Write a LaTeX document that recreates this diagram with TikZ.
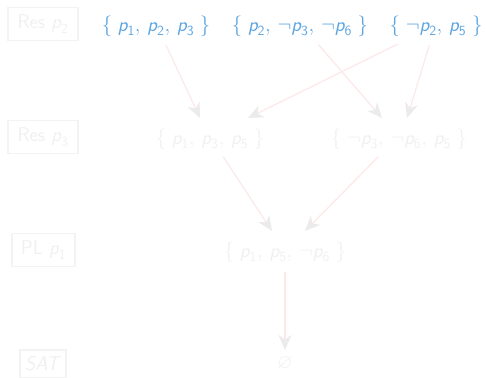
\documentclass[tikz,border=0pt]{standalone}
\usepackage{amsmath,amssymb}
\usetikzlibrary{arrows.meta}
\definecolor{blu}{HTML}{5DA5E0}
\definecolor{fade}{HTML}{F0F0F0}
\definecolor{boxc}{HTML}{F3F3F3}
\definecolor{shaft}{HTML}{FDE9E9}
\definecolor{tipc}{HTML}{EBEBEB}
\newcommand\pp[1]{\textit{p}_{\textsf{#1}}}
\newcommand\cm{,\,}
\newcommand\lb{\{\;}
\newcommand\rb{\;\}}
\begin{document}
\begin{tikzpicture}[x=1pt,y=-1pt,
  every node/.style={font=\sffamily\fontsize{20}{24}\selectfont},
  clause/.style={text=fade},
  topclause/.style={text=blu},
  lbl/.style={draw=boxc,line width=1.2pt,text=fade,minimum height=33pt,minimum width=70pt,inner xsep=3pt,font=\sffamily\fontsize{20}{24}\selectfont},
  arr/.style={draw=shaft,line width=1.3pt,-{Stealth[length=15pt,width=13pt,inset=4.5pt,color=tipc]},shorten <=2pt}]
\useasboundingbox (0,0) rectangle (486,377);
% labels
\node[lbl] (l1) at (43,24) {Res $\pp{2}$};
\node[lbl] (l2) at (43,137) {Res $\pp{3}$};
\node[lbl,minimum width=63pt] (l3) at (43.5,250) {PL $\pp{1}$};
\node[lbl,minimum height=28pt,minimum width=46pt] (l4) at (43,364) {\textit{SAT}};
% clauses
\node[topclause] (a) at (156,26) {$\lb\pp{1}\cm\pp{2}\cm\pp{3}\rb$};
\node[topclause] (b) at (300,26) {$\lb\pp{2}\cm\neg\pp{3}\cm\neg\pp{6}\rb$};
\node[topclause] (c) at (436,26) {$\lb\neg\pp{2}\cm\pp{5}\rb$};
\node[clause] (d) at (210,139) {$\lb\pp{1}\cm\pp{3}\cm\pp{5}\rb$};
\node[clause] (e) at (399,139) {$\lb\neg\pp{3}\cm\neg\pp{6}\cm\pp{5}\rb$};
\node[clause] (f) at (285,252) {$\lb\pp{1}\cm\pp{5}\cm\neg\pp{6}\rb$};
\node[clause] (g) at (285,363) {$\varnothing$};
% connector end points
\coordinate (a1) at (165,43);
\coordinate (d1) at (200,118);
\coordinate (c1) at (400,43);
\coordinate (d2) at (248,118);
\coordinate (b1) at (317,43);
\coordinate (e1) at (382,118);
\coordinate (c2) at (430,43);
\coordinate (e2) at (407,118);
\coordinate (d3) at (222,155);
\coordinate (f1) at (272,231);
\coordinate (e3) at (380,155);
\coordinate (f2) at (305,231);
\coordinate (f3) at (285,270);
\coordinate (g1) at (285,350);
\draw[arr] (a1) -- (d1);
\draw[arr] (c1) -- (d2);
\draw[arr] (b1) -- (e1);
\draw[arr] (c2) -- (e2);
\draw[arr] (d3) -- (f1);
\draw[arr] (e3) -- (f2);
\draw[arr] (f3) -- (g1);
\end{tikzpicture}
\end{document}
